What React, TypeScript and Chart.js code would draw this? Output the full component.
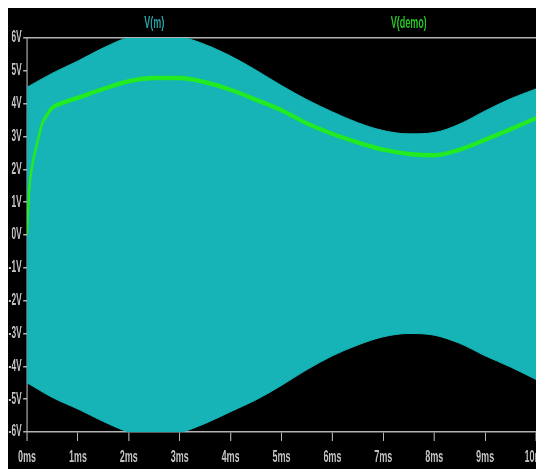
import React, { useEffect, useRef } from 'react';
import { Chart, registerables } from 'chart.js';

Chart.register(...registerables);

// ---- data ----
const envTime = [0, 0.5, 1, 1.5, 2, 2.5, 3, 3.5, 4, 4.5, 5, 5.5, 6, 6.5, 7, 7.5, 8, 8.5, 9, 9.5, 10];
const vmUpper = [4.5, 4.93, 5.3, 5.7, 6.02, 6.12, 6.05, 5.8, 5.45, 5.02, 4.55, 4.12, 3.75, 3.42, 3.18, 3.08, 3.12, 3.38, 3.78, 4.15, 4.45];
const vmLower = [-4.5, -4.95, -5.3, -5.68, -6.0, -6.12, -6.02, -5.74, -5.38, -5.02, -4.58, -4.1, -3.68, -3.35, -3.1, -3.0, -3.05, -3.3, -3.68, -4.02, -4.4];
const demoTime = [0, 0.02, 0.05, 0.1, 0.2, 0.3, 0.4, 0.5, 0.75, 1, 1.5, 2, 2.5, 3, 3.5, 4, 4.5, 5, 5.5, 6, 6.5, 7, 7.5, 8, 8.5, 9, 9.5, 10];
const demoValues = [0, 0.7, 1.5, 2.1, 2.8, 3.4, 3.68, 3.88, 4.05, 4.18, 4.45, 4.68, 4.78, 4.78, 4.65, 4.42, 4.12, 3.8, 3.4, 3.08, 2.82, 2.6, 2.47, 2.43, 2.6, 2.9, 3.22, 3.56];
const xTickLabels = ['0ms', '1ms', '2ms', '3ms', '4ms', '5ms', '6ms', '7ms', '8ms', '9ms', '10ms'];
const yTickLabels = ['-6V', '-5V', '-4V', '-3V', '-2V', '-1V', '0V', '1V', '2V', '3V', '4V', '5V', '6V'];
const seriesNames = ['V(m)', 'V(demo)'];
const seriesColors = ['rgb(40,160,168)', 'rgb(40,200,40)'];

// ---- styling ----
const CSS_W = 528;
const CSS_H = 461;
const W = 1000; // internal width, squeezed horizontally to CSS_W
const FONT = "'Liberation Sans', Arial, sans-serif";
const AXIS = '#b4b4b4';
const LABEL = '#c4c4c4';
const CYAN = 'rgb(22,180,182)';
const GREEN = 'rgb(34,235,34)';

const traceNamesPlugin = {
  id: 'traceNames',
  afterDraw(chart: any) {
    const { ctx, chartArea } = chart;
    ctx.save();
    ctx.font = `bold 17px ${FONT}`;
    ctx.textAlign = 'center';
    ctx.textBaseline = 'alphabetic';
    seriesNames.forEach((name, i) => {
      const x = chartArea.left + ((chartArea.right - chartArea.left) * (i + 0.5)) / seriesNames.length;
      ctx.fillStyle = seriesColors[i];
      ctx.fillText(name, x, 20);
    });
    ctx.restore();
  },
};

export default function App() {
  const ref = useRef<HTMLCanvasElement | null>(null);

  useEffect(() => {
    document.documentElement.style.overflow = 'hidden';
    document.body.style.margin = '8px 0 0 8px';
    const canvas = ref.current;
    if (!canvas) return;
    const chart = new Chart(canvas, {
      type: 'line',
      data: {
        datasets: [
          {
            label: seriesNames[1],
            data: demoTime.map((t, i) => ({ x: t, y: demoValues[i] })),
            borderColor: GREEN,
            borderWidth: 4.5,
            pointRadius: 0,
            fill: false,
            cubicInterpolationMode: 'monotone',
            order: 0,
          },
          {
            label: seriesNames[0],
            data: envTime.map((t, i) => ({ x: t, y: vmUpper[i] })),
            borderColor: CYAN,
            borderWidth: 1,
            pointRadius: 0,
            fill: false,
            cubicInterpolationMode: 'monotone',
            order: 1,
          },
          {
            label: seriesNames[0] + ' ',
            data: envTime.map((t, i) => ({ x: t, y: vmLower[i] })),
            borderColor: CYAN,
            backgroundColor: CYAN,
            borderWidth: 1,
            pointRadius: 0,
            fill: '-1',
            cubicInterpolationMode: 'monotone',
            order: 2,
          },
        ],
      },
      options: {
        animation: false,
        responsive: false,
        devicePixelRatio: 1,
        layout: { padding: { top: 30, left: 0, right: 0, bottom: 0 } },
        plugins: { legend: { display: false }, tooltip: { enabled: false }, title: { display: false } },
        scales: {
          x: {
            type: 'linear',
            position: 'bottom',
            min: 0,
            max: 10,
            ticks: {
              stepSize: 1,
              autoSkip: false,
              maxRotation: 0,
              padding: 6,
              color: LABEL,
              font: { family: FONT, size: 17, weight: 'bold' },
              callback: (v: any) => xTickLabels[Math.round(Number(v))] ?? '',
            },
            grid: { display: true, drawOnChartArea: false, drawTicks: true, tickLength: 9, color: AXIS, lineWidth: 2 },
            border: { display: true, color: AXIS, width: 1.5 },
            afterFit: (s: any) => {
              s.height = 37;
              s.paddingLeft = 0;
              s.paddingRight = 0;
            },
          },
          xTop: {
            type: 'linear',
            position: 'top',
            min: 0,
            max: 10,
            ticks: { display: false },
            grid: { display: false, drawTicks: false },
            border: { display: true, color: AXIS, width: 1.5 },
            afterFit: (s: any) => {
              s.height = 0;
              s.paddingLeft = 0;
              s.paddingRight = 0;
            },
          },
          y: {
            type: 'linear',
            min: -6,
            max: 6,
            ticks: {
              stepSize: 1,
              autoSkip: false,
              padding: 3,
              color: LABEL,
              font: { family: FONT, size: 16, weight: 'bold' },
              callback: (v: any) => yTickLabels[Math.round(Number(v)) + 6] ?? '',
            },
            grid: { display: true, drawOnChartArea: false, drawTicks: true, tickLength: 7, color: AXIS, lineWidth: 1.5 },
            border: { display: true, color: AXIS, width: 2 },
            afterFit: (s: any) => {
              s.width = 36;
              s.paddingTop = 0;
              s.paddingBottom = 0;
            },
          },
        },
      },
      plugins: [traceNamesPlugin],
    } as any);
    return () => chart.destroy();
  }, []);

  return (
    <div style={{ width: CSS_W, height: CSS_H, background: '#000', overflow: 'hidden' }}>
      <canvas ref={ref} width={W} height={CSS_H} style={{ width: CSS_W, height: CSS_H, display: 'block' }} />
    </div>
  );
}
